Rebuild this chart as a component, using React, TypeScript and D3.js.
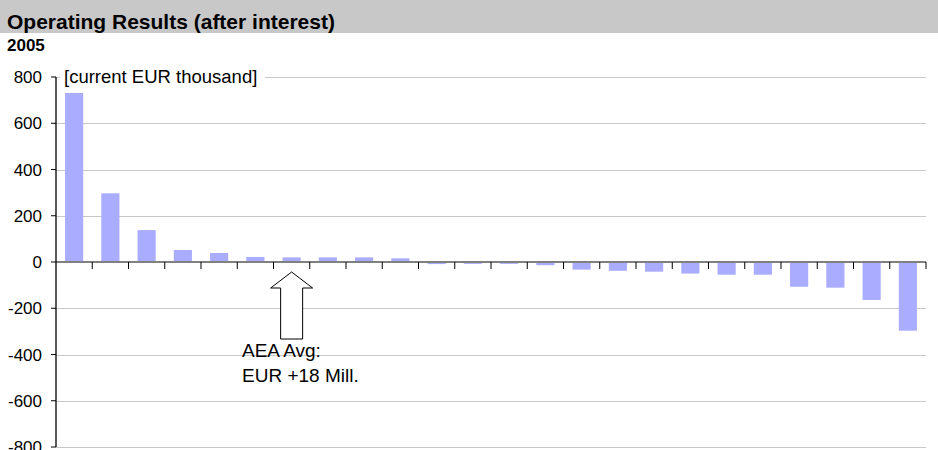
import React from 'react';
import * as d3 from 'd3';

const categories = d3.range(1, 25).map(i => 'C' + i);
const results = [731, 297, 138, 52, 39, 22, 20, 20, 20, 16, -9, -8, -8, -14, -33, -38, -42, -50, -55, -55, -107, -111, -164, -297];
const yTicks = [800, 600, 400, 200, 0, -200, -400, -600, -800];
const avgIndex = 6;

const W = 938, H = 450;
const margin = { top: 77, right: 12, bottom: 3, left: 56 };

export default function App() {
    const x = d3.scaleBand()
        .domain(categories)
        .range([margin.left, W - margin.right])
        .paddingInner(0.5)
        .paddingOuter(0.25);

    const y = d3.scaleLinear()
        .domain([-800, 800])
        .range([H - margin.bottom, margin.top]);

    const step = x.step();
    const bandStart = (i) => margin.left + i * step;
    const font = '"Liberation Sans", Arial, sans-serif';

    // block arrow under the average category
    const ax = x(categories[avgIndex]) + x.bandwidth() / 2;
    const tipY = y(0) + 10;
    const arrow = [
        [ax, tipY], [ax + 21, tipY + 16], [ax + 11, tipY + 16], [ax + 11, tipY + 67],
        [ax - 11, tipY + 67], [ax - 11, tipY + 16], [ax - 21, tipY + 16]
    ];

    return (
        <div style={{ position: 'absolute', left: 0, top: 0 }}>
            <svg width={W} height={H} style={{ display: 'block', fontFamily: font }}>
                <rect x={0} y={0} width={W} height={H} fill="#fff" />
                <rect x={0} y={0} width={W} height={33} fill="#c8c8c8" />
                <text x={7} y={29} fontSize={21} fontWeight="bold" fill="#000">Operating Results (after interest)</text>
                <text x={7} y={51} fontSize={17} fontWeight="bold" fill="#000">2005</text>

                {yTicks.filter(t => t !== 0).map(t => (
                    <line key={'g' + t} x1={margin.left} x2={W - margin.right} y1={Math.round(y(t)) + 0.5} y2={Math.round(y(t)) + 0.5} stroke="#c8c8c8" strokeWidth={1} />
                ))}

                <rect x={60} y={64} width={205} height={26} fill="#fff" />
                <text x={64} y={83} fontSize={18.5} fill="#000">[current EUR thousand]</text>

                {results.map((v, i) => (
                    <rect key={i}
                        x={x(categories[i])}
                        y={y(Math.max(0, v))}
                        width={x.bandwidth()}
                        height={Math.abs(y(v) - y(0))}
                        fill="#aaacff" />
                ))}

                <line x1={margin.left} x2={W - margin.right} y1={y(0)} y2={y(0)} stroke="#808080" strokeWidth={2} />
                {categories.map((c, i) => (
                    <line key={'t' + i} x1={bandStart(i + 1)} x2={bandStart(i + 1)} y1={y(0)} y2={y(0) + 7} stroke="#000" strokeWidth={1} />
                ))}

                <line x1={margin.left} x2={margin.left} y1={y(800)} y2={y(-800)} stroke="#000" strokeWidth={1.3} />
                {yTicks.map(t => (
                    <g key={'y' + t}>
                        <line x1={margin.left - 5} x2={margin.left} y1={y(t)} y2={y(t)} stroke="#000" strokeWidth={1} />
                        <text x={42} y={y(t) + 6} textAnchor="end" fontSize={17} fill="#000">{t}</text>
                    </g>
                ))}

                <polygon points={arrow.map(p => p.join(',')).join(' ')} fill="#fff" stroke="#000" strokeWidth={1} />
                <text x={242} y={357} fontSize={19} fill="#000">AEA Avg:</text>
                <text x={242} y={382} fontSize={19} fill="#000">EUR +18 Mill.</text>
            </svg>
        </div>
    );
}
